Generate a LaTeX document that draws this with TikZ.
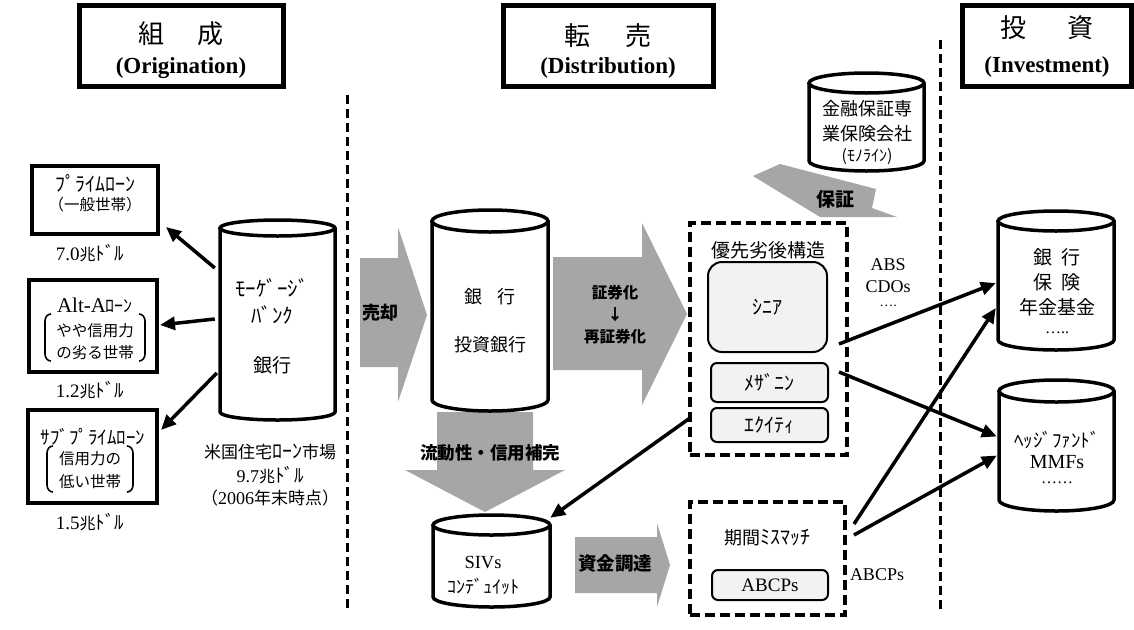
\documentclass[tikz,border=0pt]{standalone}
\usepackage{fontspec}
\setmainfont{Liberation Serif}
\newfontfamily\jp{Noto Sans CJK JP}
\usetikzlibrary{arrows.meta,calc}
\newcommand\fsz[1]{\fontsize{#1}{#1}\selectfont}
\newcommand\lat{\rmfamily}
% name, cx, ytop, ybot, rx, ry
\newcommand\cyl[6]{%
  \node[inner sep=0pt, minimum width={2*#5pt}, minimum height={(#4-#3+2*#6)*1pt}] (#1) at (#2,{(#3+#4)/2}) {};
  \draw[cylline, fill=white] ({#2-#5},#3) -- ({#2-#5},#4) arc[start angle=180, end angle=360, x radius=#5pt, y radius=#6pt] -- ({#2+#5},#3);
  \draw[cylline] (#2,#3) ellipse[x radius=#5pt, y radius=#6pt];
}
\begin{document}
\begin{tikzpicture}[x=1pt,y=-1pt,
  txt/.style={inner sep=0pt, anchor=center, font=\jp},
  hdr/.style={draw, line width=5pt, inner sep=0pt},
  loanbox/.style={draw, line width=4pt, inner sep=0pt},
  cylline/.style={line width=3.5pt},
  blk/.style={fill=gray!70, draw=none},
  lbl/.style={inner sep=0pt, font=\jp\bfseries},
  conn/.style={line width=3.5pt, -{Triangle[length=15pt,width=13pt]}},
  sep/.style={line width=3pt, dash pattern=on 9pt off 5pt},
  dbox/.style={draw, line width=4pt, dash pattern=on 10pt off 5pt, inner sep=0pt},
  tranche/.style={draw, line width=2pt, fill=black!5, rounded corners=6pt, inner sep=0pt, font=\jp\fsz{20}},
  brk/.style={line width=1.6pt},
  ]
\useasboundingbox (0,0) rectangle (1134,629);

% ---------- headers ----------
\node[hdr, minimum width=204pt, minimum height=81pt] (h1) at (181,45.5) {};
\node[txt, font=\jp\fsz{26}] (h1a) at (181,34) {組\hspace{34pt}成};
\node[txt, font=\bfseries\fsz{23}] (h1b) at (181,68) {(Origination)};
\node[hdr, minimum width=210pt, minimum height=81pt] (h2) at (608,45.5) {};
\node[txt, font=\jp\fsz{26}] (h2a) at (608,36) {転\hspace{35pt}売};
\node[txt, font=\bfseries\fsz{23}] (h2b) at (608,68) {(Distribution)};
\node[hdr, minimum width=169pt, minimum height=81pt] (h3) at (1046.5,45.5) {};
\node[txt, font=\jp\fsz{26}] (h3a) at (1047,28) {投\hspace{41pt}資};
\node[txt, font=\bfseries\fsz{23}] (h3b) at (1047,67) {(Investment)};

% ---------- separators ----------
\draw[sep] (347,95) -- (347,612);
\draw[sep] (940,40) -- (940,612);

% ---------- loan boxes ----------
\node[loanbox, minimum width=126pt, minimum height=68pt] (pr) at (95,200) {};
\node[txt, font=\jp\fsz{20}] (prA) at (95,183) {ﾌﾟﾗｲﾑﾛｰﾝ};
\node[txt, font=\jp\fsz{15.5}] (prB) at (95,205) {（一般世帯）};
\node[txt] (amt1) at (90,253) {\lat\fsz{19}7.0\jp\fsz{16}兆\fsz{19}ﾄﾞﾙ};

\node[loanbox, minimum width=128pt, minimum height=92pt] (al) at (93,326) {};
\node[txt] (alA) at (95,305) {\lat\fsz{21}Alt-A\jp\fsz{18}ﾛｰﾝ};
\node[txt, font=\jp\fsz{15.5}] (alB) at (95,331) {やや信用力};
\node[txt, font=\jp\fsz{15.5}] (alC) at (95,353) {の劣る世帯};
\draw[brk] (51,314) to[out=180,in=90] (45,321) -- (45,354) to[out=270,in=180] (51,361);
\draw[brk] (139,314) to[out=0,in=90] (145,321) -- (145,354) to[out=270,in=0] (139,361);
\node[txt] (amt2) at (90,390) {\lat\fsz{19}1.2\jp\fsz{16}兆\fsz{19}ﾄﾞﾙ};

\node[loanbox, minimum width=129pt, minimum height=93pt] (sp) at (92.5,456.5) {};
\node[txt, font=\jp\fsz{19}] (spA) at (93,437) {ｻﾌﾞﾌﾟﾗｲﾑﾛｰﾝ};
\node[txt, font=\jp\fsz{15.5}] (spB) at (90,459) {信用力の};
\node[txt, font=\jp\fsz{15.5}] (spC) at (90,482) {低い世帯};
\draw[brk] (53,446) to[out=180,in=90] (47,453) -- (47,485) to[out=270,in=180] (53,492);
\draw[brk] (127,446) to[out=0,in=90] (133,453) -- (133,485) to[out=270,in=0] (127,492);
\node[txt] (amt3) at (90,522) {\lat\fsz{19}1.5\jp\fsz{16}兆\fsz{19}ﾄﾞﾙ};

% ---------- gray block arrows ----------
\fill[blk] (360,258) -- (398,258) -- (398,227) -- (427,315) -- (398,402) -- (398,367) -- (360,367) -- cycle;
\node[lbl, font=\jp\bfseries\fsz{18}] (sell) at (380,313) {売却};
\fill[blk] (553,257) -- (642,257) -- (642,223) -- (687,314) -- (642,405) -- (642,370) -- (553,370) -- cycle;
\node[lbl, font=\jp\bfseries\fsz{15.5}] (secA) at (615,293) {証券化};
\node[lbl, font=\jp\bfseries\fsz{15.5}] (secB) at (615,315) {↓};
\node[lbl, font=\jp\bfseries\fsz{15.5}] (secC) at (615,337) {再証券化};
\fill[blk] (437,412) -- (533,412) -- (533,470) -- (565,470) -- (485,512) -- (405,470) -- (437,470) -- cycle;
\node[lbl, font=\jp\bfseries\fsz{17.5}] (liq) at (490,453) {流動性・信用補完};
\fill[blk] (575,537) -- (657,537) -- (657,523) -- (670,565) -- (657,607) -- (657,593) -- (575,593) -- cycle;
\node[lbl, font=\jp\bfseries\fsz{18.5}] (fund) at (615,563) {資金調達};
\fill[blk] (753,176) -- (780,164) -- (876,189) -- (872,208) -- (897,217) -- (820,217) -- cycle;
\node[lbl, font=\jp\bfseries\fsz{19}] (guar) at (835,199) {保証};

% ---------- cylinders ----------
\cyl{mb}{277.5}{228}{412}{57.5}{8}
\node[txt, font=\jp\fsz{21}] (mbA) at (272,288) {ﾓｰｹﾞｰｼﾞ};
\node[txt, font=\jp\fsz{21}] (mbB) at (272,315) {ﾊﾞﾝｸ};
\node[txt, font=\jp\fsz{19}] (mbC) at (272,365) {銀行};
\node[txt] (mk1) at (270,452) {\jp\fsz{17}米国住宅\fsz{20}ﾛｰﾝ\fsz{17}市場};
\node[txt] (mk2) at (270,475) {\lat\fsz{18}9.7\jp\fsz{16}兆\fsz{19}ﾄﾞﾙ};
\node[txt] (mk3) at (270,498) {\jp\fsz{17}（\lat\fsz{18}2006\jp\fsz{17}年末時点）};

\cyl{ib}{490}{221}{400}{58}{11}
\node[txt, font=\jp\fsz{18}] (ibA) at (490,297) {銀\hspace{15pt}行};
\node[txt, font=\jp\fsz{18}] (ibB) at (490,345) {投資銀行};

\cyl{sv}{491.5}{525}{597}{58.5}{10}
\node[txt, font=\lat\fsz{18.5}] (svA) at (483,563) {SIVs};
\node[txt, font=\jp\fsz{18}] (svB) at (483,586) {ｺﾝﾃﾞｭｲｯﾄ};

\cyl{ml}{866.5}{83}{161}{57.5}{10}
\node[txt, font=\jp\fsz{18}] (mlA) at (867,109) {金融保証専};
\node[txt, font=\jp\fsz{18}] (mlB) at (867,134) {業保険会社};
\node[txt, font=\jp\fsz{16}] (mlC) at (867,157) {(ﾓﾉﾗｲﾝ)};

\cyl{iv1}{1056}{221}{340}{58}{10}
\node[txt, font=\jp\fsz{19}] (ivA) at (1057,257) {銀\hspace{9pt}行};
\node[txt, font=\jp\fsz{19}] (ivB) at (1057,282) {保\hspace{9pt}険};
\node[txt, font=\jp\fsz{19}] (ivC) at (1057,307) {年金基金};
\node[txt, font=\lat\fsz{16}] (ivD) at (1057,333) {…..};

\cyl{iv2}{1056.5}{391}{500}{57.5}{11}
\node[txt, font=\jp\fsz{19}] (hfA) at (1057,440) {ﾍｯｼﾞﾌｧﾝﾄﾞ};
\node[txt, font=\lat\fsz{20}] (hfB) at (1057,462) {MMFs};
\node[txt, font=\lat\fsz{16}] (hfC) at (1057,483) {……};

% ---------- tranche structure ----------
\node[dbox, minimum width=157pt, minimum height=232pt] (tb) at (768.5,339) {};
\node[txt, font=\jp\fsz{19}] (tbT) at (768,250) {優先劣後構造};
\node[tranche, rounded corners=14pt, minimum width=119pt, minimum height=90pt] (sn) at (767.5,307) {ｼﾆｱ};
\node[tranche, minimum width=117pt, minimum height=39pt] (mz) at (769.5,382.5) {ﾒｻﾞﾆﾝ};
\node[tranche, minimum width=117pt, minimum height=34pt] (eq) at (769.5,425) {ｴｸｲﾃｨ};

\node[txt, font=\lat\fsz{18}] (absA) at (888,265) {ABS};
\node[txt, font=\lat\fsz{18}] (absB) at (888,287) {CDOs};
\node[txt, font=\lat\fsz{14}] (absC) at (888,306) {….};

\node[dbox, minimum width=155pt, minimum height=113pt] (ab) at (767.5,558.5) {};
\node[txt] (abT) at (767,538) {\jp\fsz{18}期間\fsz{20}ﾐｽﾏｯﾁ};
\node[tranche, font=\lat\fsz{19}, minimum width=116pt, minimum height=30pt] (ap) at (770,585) {ABCPs};
\node[txt, font=\lat\fsz{18}] (apL) at (877,575) {ABCPs};

% ---------- connectors ----------
\draw[conn] ($(mb.west)+(-5,-52)$) -- ($(pr.south east)+(6,-9)$);
\draw[conn] ($(mb.west)+(-5,-1)$) -- ($(al.east)+(1,-1)$);
\draw[conn] ($(mb.west)+(-3,53)$) -- ($(sp.north east)+(2,22)$);
\draw[conn] ($(sn.south east)+(11,-9)$) -- ($(iv1.west)+(-2,2.5)$);
\draw[conn] ($(mz.north east)+(10,10)$) -- ($(iv2.west)+(-2,-9)$);
\draw[conn] ($(ab.north east)+(7,24)$) -- ($(iv1.west)+(-2,27.5)$);
\draw[conn] ($(ab.north east)+(7,35)$) -- ($(iv2.west)+(-2,10)$);
\draw[conn] ($(tb.south west)+(2,-39)$) -- ($(sv.north east)+(0,3)$);
\end{tikzpicture}
\end{document}
